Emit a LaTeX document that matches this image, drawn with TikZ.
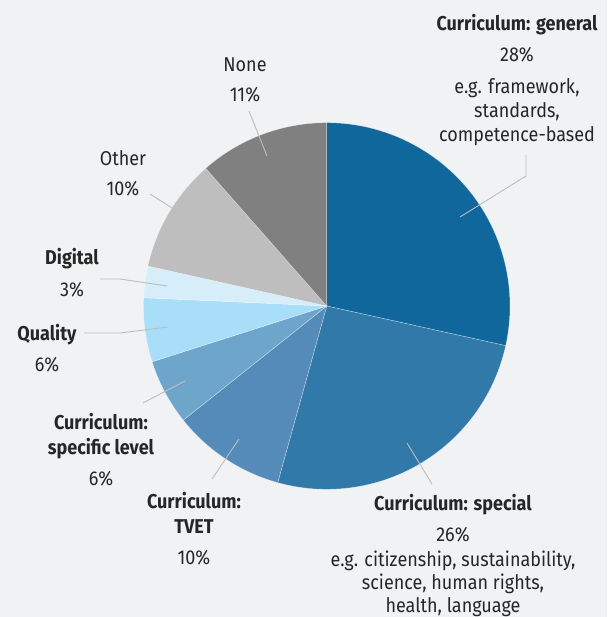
\documentclass[tikz,border=0pt]{standalone}
\usepackage{fontspec}
\setmainfont{Fira Sans}[FakeStretch = 0.9]
\usepackage{tikz}
\usepackage{xcolor}
\definecolor{sfondo}{HTML}{F1F2F4}
\definecolor{testo}{HTML}{262626}
\definecolor{guidaCol}{HTML}{BDBDBD}
\definecolor{colGen}{HTML}{10679B}
\definecolor{colSpec}{HTML}{3179A9}
\definecolor{colTvet}{HTML}{548BB8}
\definecolor{colLiv}{HTML}{6EA6CB}
\definecolor{colQual}{HTML}{A8DEF8}
\definecolor{colDig}{HTML}{D5EEFA}
\definecolor{colAltro}{HTML}{BEBEBE}
\definecolor{colNess}{HTML}{808080}

\begin{document}
\begin{tikzpicture}[x = 1pt, y = -1pt,
    etichetta/.style = {align = center, inner sep = 0pt, anchor = north, text = testo, font = \fontsize{20}{24}\selectfont},
    guida/.style = {draw = guidaCol, line width = 0.9pt},
    spicchio/.style = {draw = white, draw opacity = 0.45, line width = 0.5pt}]
    % Parametri
    \pgfmathsetmacro{\raggio}{183.3}
    % Sfondo
    \fill[sfondo] (0,0) rectangle (607,617);
    \useasboundingbox (0,0) rectangle (607,617);
    % Centro della torta
    \coordinate (o) at (326.7,306);
    % Spicchi (in senso orario da mezzogiorno)
    \filldraw[spicchio, fill = colGen] (o) -- ++(-90:\raggio) arc[start angle = -90, end angle = 12.5, radius = \raggio] -- cycle;
    \filldraw[spicchio, fill = colSpec] (o) -- ++(12.5:\raggio) arc[start angle = 12.5, end angle = 105.5, radius = \raggio] -- cycle;
    \filldraw[spicchio, fill = colTvet] (o) -- ++(105.5:\raggio) arc[start angle = 105.5, end angle = 141.5, radius = \raggio] -- cycle;
    \filldraw[spicchio, fill = colLiv] (o) -- ++(141.5:\raggio) arc[start angle = 141.5, end angle = 162.3, radius = \raggio] -- cycle;
    \filldraw[spicchio, fill = colQual] (o) -- ++(162.3:\raggio) arc[start angle = 162.3, end angle = 182.6, radius = \raggio] -- cycle;
    \filldraw[spicchio, fill = colDig] (o) -- ++(182.6:\raggio) arc[start angle = 182.6, end angle = 192.6, radius = \raggio] -- cycle;
    \filldraw[spicchio, fill = colAltro] (o) -- ++(192.6:\raggio) arc[start angle = 192.6, end angle = 228.7, radius = \raggio] -- cycle;
    \filldraw[spicchio, fill = colNess] (o) -- ++(228.7:\raggio) arc[start angle = 228.7, end angle = 270, radius = \raggio] -- cycle;
    % Etichette
    \node[etichetta] (tGen) at (517,14.4) {\textbf{Curriculum: general}\\[7pt]28\%\\[8pt]e.g. framework,\\standards,\\competence-based};
    \node[etichetta] (tSpec) at (453,493.8) {\textbf{Curriculum: special}\\[7pt]26\%\\[1pt]e.g. citizenship, sustainability,\\[-0.7pt]science, human rights,\\[-0.7pt]health, language};
    \node[etichetta] (tTvet) at (194,491.8) {\textbf{Curriculum:}\\[1pt]\textbf{TVET}\\[7pt]10\%};
    \node[etichetta] (tLiv) at (101,413.4) {\textbf{Curriculum:}\\[1pt]\textbf{specific level}\\[6.5pt]6\%};
    \node[etichetta] (tQual) at (47,324.4) {\textbf{Quality}\\[6.5pt]6\%};
    \node[etichetta] (tDig) at (72,248.4) {\textbf{Digital}\\[7.5pt]3\%};
    \node[etichetta] (tAltro) at (123,150.1) {Other\\[6.5pt]10\%};
    \node[etichetta] (tNess) at (245,57.9) {None\\[6pt]11\%};
    % Punti delle linee guida
    \coordinate (gGen1) at (460,217);
    \coordinate (gGen2) at (526,176);
    \coordinate (gGen3) at (526,155);
    \coordinate (gSpec1) at (407,443);
    \coordinate (gSpec2) at (432,484);
    \coordinate (gTvet1) at (239,439);
    \coordinate (gTvet2) at (212,479);
    \coordinate (gLiv1) at (185,381);
    \coordinate (gLiv2) at (143,403);
    \coordinate (gQual1) at (168,327);
    \coordinate (gQual2) at (120,333);
    \coordinate (gQual3) at (84,333);
    \coordinate (gDig1) at (167,286);
    \coordinate (gDig2) at (120,279);
    \coordinate (gDig3) at (100,279);
    \coordinate (gAltro1) at (191,220);
    \coordinate (gAltro2) at (150,194);
    \coordinate (gNess1) at (267,156);
    \coordinate (gNess2) at (249,111);
    % Linee guida
    \draw[guida] (gGen1) -- (gGen2) -- (gGen3);
    \draw[guida] (gSpec1) -- (gSpec2);
    \draw[guida] (gTvet1) -- (gTvet2);
    \draw[guida] (gLiv1) -- (gLiv2);
    \draw[guida] (gQual1) -- (gQual2) -- (gQual3);
    \draw[guida] (gDig1) -- (gDig2) -- (gDig3);
    \draw[guida] (gAltro1) -- (gAltro2);
    \draw[guida] (gNess1) -- (gNess2);
\end{tikzpicture}
\end{document}
